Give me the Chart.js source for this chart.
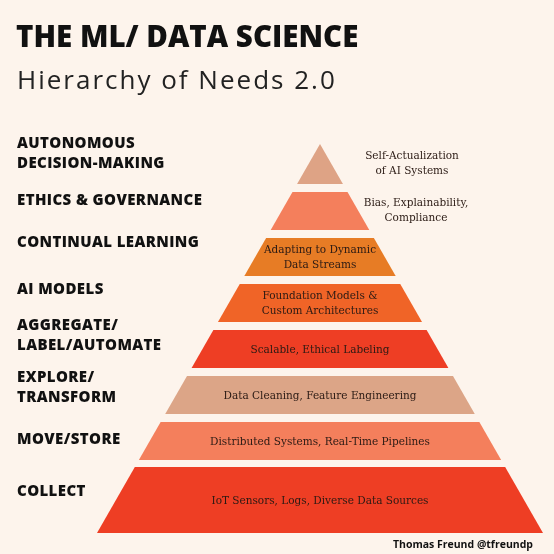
<!DOCTYPE html>
<html>
<head>
<meta charset="utf-8">
<script src="https://cdn.jsdelivr.net/npm/chart.js@4"></script>
<style>
  body { margin: 0; background: #fdf4ec; }
  canvas { display: block; }
</style>
</head>
<body>
<canvas id="pyramid" width="554" height="554"></canvas>
<script>
// layers, top of the pyramid first
const levels = [
    ['AUTONOMOUS', 'DECISION-MAKING'],
    ['ETHICS & GOVERNANCE'],
    ['CONTINUAL LEARNING'],
    ['AI MODELS'],
    ['AGGREGATE/', 'LABEL/AUTOMATE'],
    ['EXPLORE/', 'TRANSFORM'],
    ['MOVE/STORE'],
    ['COLLECT'],
];
const descriptions = [
    ['Self-Actualization', 'of AI Systems'],
    ['Bias, Explainability,', 'Compliance'],
    ['Adapting to Dynamic', 'Data Streams'],
    ['Foundation Models &', 'Custom Architectures'],
    ['Scalable, Ethical Labeling'],
    ['Data Cleaning, Feature Engineering'],
    ['Distributed Systems, Real-Time Pipelines'],
    ['IoT Sensors, Logs, Diverse Data Sources'],
];
// depth from the apex where each band starts and ends
const bandTop = [0, 48, 94, 140, 186, 232, 278, 323];
const bandBottom = [40, 86, 132, 178, 224, 270, 316, 389];
const colors = ['#dea385', '#f47f5c', '#e77c25', '#f06427', '#ee3e24', '#dca587', '#f47f5c', '#ee3e24'];

const baseDepth = 389;
const half = d => d / baseDepth;

const datasets = levels.map((_, i) => ({
    label: levels[i].join(' '),
    data: [
        { x: -half(bandTop[i]), y: bandTop[i] },
        { x: half(bandTop[i]), y: bandTop[i] },
        { x: half(bandBottom[i]), y: bandBottom[i] },
        { x: -half(bandBottom[i]), y: bandBottom[i] },
    ],
    showLine: false,
    pointRadius: 0,
    backgroundColor: colors[i],
    borderColor: colors[i],
}));

// fill each band as a closed shape from the points the scales placed
const polygonFill = {
    id: 'polygonFill',
    beforeDatasetsDraw(chart) {
        const ctx = chart.ctx;
        chart.data.datasets.forEach((ds, i) => {
            const pts = chart.getDatasetMeta(i).data;
            ctx.save();
            ctx.beginPath();
            pts.forEach((p, k) => k ? ctx.lineTo(p.x, p.y) : ctx.moveTo(p.x, p.y));
            ctx.closePath();
            ctx.fillStyle = ds.backgroundColor;
            ctx.fill();
            ctx.restore();
        });
    }
};

const texts = {
    id: 'texts',
    afterDatasetsDraw(chart) {
        const ctx = chart.ctx;
        const x = chart.scales.x, y = chart.scales.y;
        ctx.save();
        ctx.fillStyle = '#111';
        ctx.textAlign = 'left';
        ctx.textBaseline = 'alphabetic';
        ctx.font = '800 29.5px "Open Sans", sans-serif';
        ctx.fillText('THE ML/ DATA SCIENCE', 16, 47);
        ctx.font = '26px "Open Sans", sans-serif';
        ctx.letterSpacing = '2px';
        ctx.fillStyle = '#222';
        ctx.fillText('Hierarchy of Needs 2.0', 17, 89);

        // left labels
        ctx.fillStyle = '#111';
        ctx.font = '800 15px "Open Sans", sans-serif';
        ctx.letterSpacing = '0.4px';
        ctx.textBaseline = 'middle';
        const labelCenter = [154, 201, 243, 290, 336, 388, 440, 492];
        levels.forEach((lines, i) => {
            lines.forEach((t, k) => ctx.fillText(t, 17, labelCenter[i] + (k - (lines.length - 1) / 2) * 20));
        });
        ctx.letterSpacing = '0px';

        // descriptions
        ctx.fillStyle = '#2a1a14';
        ctx.font = '10.5px "DejaVu Serif", serif';
        ctx.textAlign = 'center';
        descriptions.forEach((lines, i) => {
            const mid = (bandTop[i] + bandBottom[i]) / 2;
            let cx = x.getPixelForValue(0);
            if (i < 2) cx = i === 0 ? 412 : 416;
            const cy = y.getPixelForValue(mid) + (i < 2 ? 0 : 1);
            lines.forEach((t, k) => ctx.fillText(t, cx, cy + (k - (lines.length - 1) / 2) * 15.5));
        });

        ctx.textAlign = 'right';
        ctx.fillStyle = '#111';
        ctx.font = 'bold 10.5px "Open Sans", sans-serif';
        ctx.fillText('Thomas Freund @tfreundp', 533, 545);
        ctx.restore();
    }
};

new Chart(
    document.getElementById('pyramid'),
    {
        type: 'scatter',
        data: { datasets },
        options: {
            responsive: false,
            animation: false,
            layout: { padding: { left: 97, right: 11, top: 144, bottom: 21 } },
            plugins: { legend: { display: false }, tooltip: { enabled: false } },
            scales: {
                x: { type: 'linear', min: -1, max: 1, display: false },
                y: { type: 'linear', min: 0, max: baseDepth, reverse: true, display: false }
            }
        },
        plugins: [polygonFill, texts]
    }
);
</script>
</body>
</html>
